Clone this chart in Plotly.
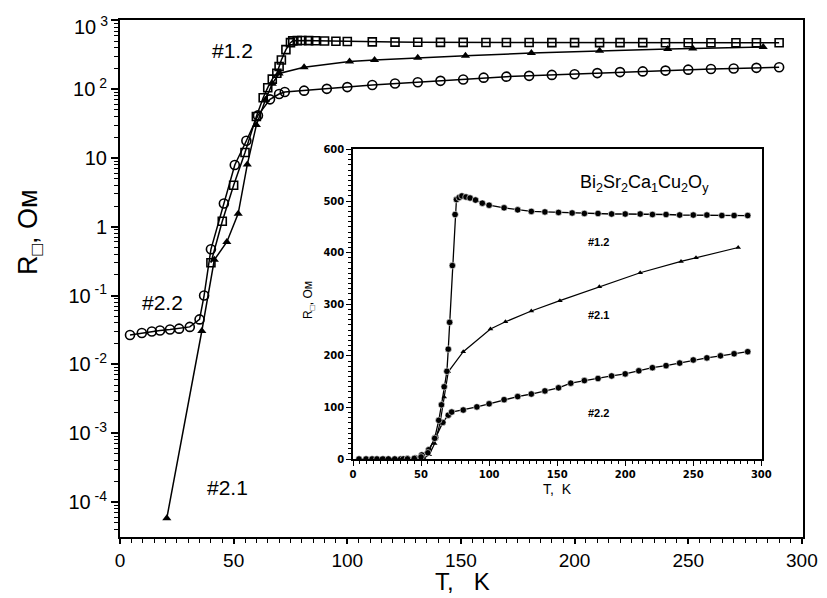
import plotly.graph_objects as go

# the page adds an 8px body margin, so the figure is sized to fit the 827x598 window
OFF = 8
W, H = 827 - OFF, 598 - OFF

# ---- data (T in K, R in Ohm) ----
T_12 = [40, 45, 50, 55, 60, 63, 65, 67, 69, 70, 71, 73, 75, 76, 78, 80, 83, 86, 90, 95, 100,
        111, 121, 131, 141, 151, 161, 170, 180, 190, 200, 211, 220, 230, 240, 250, 260, 271, 280, 290]
R_12 = [0.3, 1.2, 4, 12, 40, 75, 105, 140, 170, 213, 265, 375, 474, 503, 507, 510, 508, 506, 502, 496, 492,
        487, 483, 480, 479, 478, 477, 476, 476, 475, 475, 475, 474, 474, 473, 473, 473, 472, 472, 472]

T_21 = [20.6, 36, 41.5, 47, 52, 56, 60, 64, 67, 70, 81, 101, 112, 131, 152, 181, 211, 241, 252, 283]
R_21 = [5.8e-5, 0.0305, 0.33, 0.6, 1.55, 8, 30, 70, 120, 169, 208, 252, 266, 287, 307, 334, 361, 383, 390, 410]

T_22 = [4.4, 9.6, 14, 17.6, 22, 26, 30.7, 35, 37, 40, 45.7, 50.5, 55.6, 60.7, 66, 70, 72.5, 81, 91, 100,
        111, 121, 131, 141, 151, 160, 170, 180, 190, 200, 210, 220, 230, 240, 250, 260, 270, 280, 290]
R_22 = [0.0267, 0.0285, 0.030, 0.031, 0.032, 0.033, 0.035, 0.045, 0.1, 0.47, 2.18, 7.9, 17.8, 41.5, 71, 85, 91, 95, 101, 107,
        115, 121, 126, 132, 138, 147, 152, 156, 161, 165, 171, 177, 181, 186, 192, 196, 200, 204, 208]

main_yvals = [1e-4, 1e-3, 1e-2, 1e-1, 1, 10, 100, 1000]
# the top label (10^3) is drawn as an annotation just below its tick, as in the original
main_ytext = ["10<sup> -4</sup>", "10<sup> -3</sup>", "10<sup> -2</sup>", "10<sup> -1</sup>", "1", "10",
              "10<sup> 2</sup>", ""]
top_label = "10<sup> 3</sup>"
x_ticks = [0, 50, 100, 150, 200, 250, 300]
inset_yticks = [0, 100, 200, 300, 400, 500, 600]

# minor tick positions (axis furniture)
log_minor = [k * 10.0 ** e for e in range(-5, 3) for k in range(2, 10)]
x_minor = list(range(0, 301, 5))
y2_minor = list(range(0, 601, 10))

FONT = "Liberation Sans"

def px(x):
    return (x - OFF) / W

def py(y):
    return 1 - (y - OFF) / H

fig = go.Figure()

# main plot traces
fig.add_trace(go.Scatter(x=T_22, y=R_22, mode="lines+markers", xaxis="x", yaxis="y",
                         line=dict(color="black", width=1.5),
                         marker=dict(symbol="circle-open", size=9, color="black", line=dict(width=1.6))))
fig.add_trace(go.Scatter(x=T_21, y=R_21, mode="lines+markers", xaxis="x", yaxis="y",
                         line=dict(color="black", width=1.5),
                         marker=dict(symbol="triangle-up", size=8, color="black")))
fig.add_trace(go.Scatter(x=T_12, y=R_12, mode="lines+markers", xaxis="x", yaxis="y",
                         line=dict(color="black", width=1.5),
                         marker=dict(symbol="square-open", size=8, color="black", line=dict(width=1.6))))

# inset traces
fig.add_trace(go.Scatter(x=T_22, y=R_22, mode="lines+markers", xaxis="x2", yaxis="y2",
                         line=dict(color="black", width=1.3),
                         marker=dict(symbol="circle", size=6.5, color="black", line=dict(color="white", width=0.6))))
fig.add_trace(go.Scatter(x=T_21, y=R_21, mode="lines+markers", xaxis="x2", yaxis="y2",
                         line=dict(color="black", width=1.2),
                         marker=dict(symbol="triangle-up", size=5, color="black")))
fig.add_trace(go.Scatter(x=T_12, y=R_12, mode="lines+markers", xaxis="x2", yaxis="y2",
                         line=dict(color="black", width=1.3),
                         marker=dict(symbol="circle", size=6.5, color="black", line=dict(color="white", width=0.6))))

axis_common = dict(showgrid=False, zeroline=False, showline=True, linecolor="black",
                   mirror=True, ticks="outside", tickcolor="black", automargin=False)

fig.update_layout(
    width=W, height=H,
    margin=dict(l=0, r=0, t=0, b=0, autoexpand=False),
    paper_bgcolor="white", plot_bgcolor="white",
    showlegend=False,
    font=dict(family=FONT, color="black"),
    xaxis=dict(domain=[px(120), px(803)], range=[0, 300.5], tickvals=x_ticks,
               tickfont=dict(size=19), ticklen=5, tickwidth=1.5, linewidth=2,
               minor=dict(ticks="outside", tickvals=x_minor, ticklen=4, tickcolor="black", tickwidth=1.3),
               anchor="y", **axis_common),
    yaxis=dict(domain=[py(537), py(20)], type="log", range=[-4.51, 3.005],
               tickvals=main_yvals, ticktext=main_ytext,
               tickfont=dict(size=20), ticklen=7, tickwidth=1.5, linewidth=2,
               minor=dict(ticks="outside", tickvals=log_minor, ticklen=4, tickcolor="black", tickwidth=1.2),
               anchor="x", **axis_common),
    xaxis2=dict(domain=[px(353), px(762)], range=[0, 300.5], tickvals=x_ticks,
                tickfont=dict(size=10, family="DejaVu Sans", weight="bold"), ticklen=5, tickwidth=1.3, linewidth=1.5,
                minor=dict(ticks="outside", tickvals=x_minor, ticklen=3, tickcolor="black", tickwidth=1),
                anchor="y2", **axis_common),
    yaxis2=dict(domain=[py(459), py(149)], range=[0, 601], tickvals=inset_yticks,
                tickfont=dict(size=10, family="DejaVu Sans", weight="bold"), ticklen=5, tickwidth=1.3, linewidth=1.5,
                minor=dict(ticks="outside", tickvals=y2_minor, ticklen=3, tickcolor="black", tickwidth=1),
                anchor="x2", **axis_common),
)

annots = [
    dict(x=px(232), y=py(51), text="#1.2", font=dict(size=21)),
    dict(x=px(162), y=py(302), text="#2.2", font=dict(size=21)),
    dict(x=px(227), y=py(487), text="#2.1", font=dict(size=21)),
    dict(x=px(462), y=py(581), text="T,   K", font=dict(size=24)),
    dict(x=px(30), y=py(232), text="R<sub>□</sub>, Ом", font=dict(size=27), textangle=-90),
    dict(x=px(644), y=py(183), text="Bi<sub>2</sub>Sr<sub>2</sub>Ca<sub>1</sub>Cu<sub>2</sub>O<sub>y</sub>",
         font=dict(size=18)),
    dict(x=px(598), y=py(242), text="<b>#1.2</b>", font=dict(size=11)),
    dict(x=px(598), y=py(315), text="<b>#2.1</b>", font=dict(size=11)),
    dict(x=px(598), y=py(413), text="<b>#2.2</b>", font=dict(size=11)),
    dict(x=px(557), y=py(489), text="T,  K", font=dict(size=14)),
    dict(x=px(309), y=py(300), text="R<sub>□</sub>, Ом", font=dict(size=12), textangle=-90),
]
for a in annots:
    fig.add_annotation(xref="paper", yref="paper", showarrow=False, xanchor="center", yanchor="middle", **a)

fig.add_annotation(xref="paper", yref="paper", showarrow=False, xanchor="right", yanchor="middle",
                   x=px(110), y=py(26), text=top_label, font=dict(size=20))

fig.write_html("out.html")
